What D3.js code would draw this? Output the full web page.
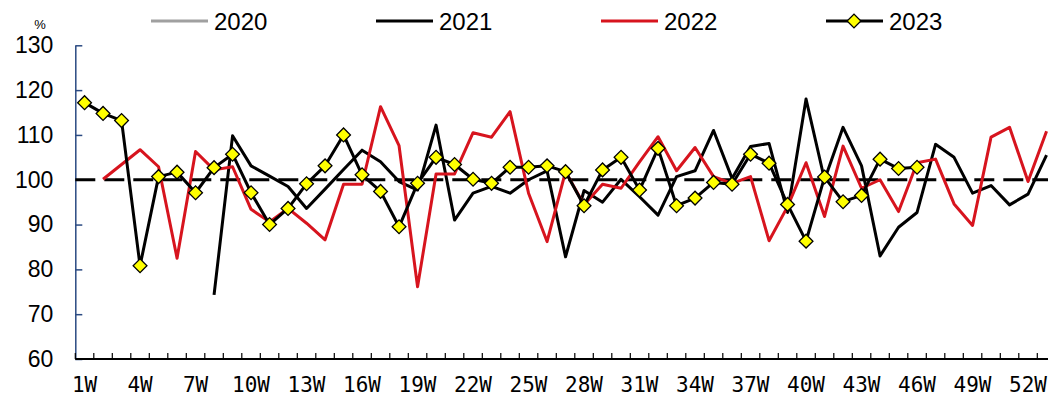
<!DOCTYPE html>
<html>
<head>
<meta charset="utf-8">
<script src="https://cdn.jsdelivr.net/npm/d3@7"></script>
<style>
  body { margin: 0; background: #fff; }
</style>
</head>
<body>
<svg id="chart" width="1048" height="398"></svg>
<script>
// weeks 1..53 (53rd week runs off the right edge)
const weeks = d3.range(1, 54);
const tickWeeks = d3.range(1, 53, 3); // 1W, 4W, ... 52W
const yTicks = [60, 70, 80, 90, 100, 110, 120, 130];
const years = ["2020", "2021", "2022", "2023"];

const v2020 = [];
const v2021 = [null, null, null, null, null, null, null,
  74.3, 109.8, 103.1, 100.8, 98.5, 93.6, 97.9, 102.3, 106.6, 104.0,
  99.6, 97.7, 112.2, 91.0, 97.0, 98.5, 97.0, 100.0, 102.0, 82.8,
  97.6, 95.0, 100.1, 96.2, 92.1, 100.7, 102.0, 111.0, 100.3, 107.4,
  108.1, 92.7, 118.0, 100.0, 111.7, 103.1, 83.0, 89.4, 92.7, 107.9,
  105.0, 97.0, 98.7, 94.4, 96.8, 105.5];
const v2022 = [null,
  100.1, 103.4, 106.7, 102.9, 82.5, 106.3, 102.2, 102.9, 93.4, 90.6,
  93.6, 90.3, 86.6, 99.0, 99.0, 116.3, 107.6, 76.1, 101.3, 101.3,
  110.5, 109.5, 115.2, 97.0, 86.2, 101.8, 94.4, 99.0, 98.1, 104.0,
  109.6, 102.0, 107.2, 100.7, 99.2, 100.7, 86.4, 94.0, 103.8, 91.8,
  107.5, 98.1, 100.0, 92.9, 103.8, 104.6, 94.6, 89.8, 109.5, 111.7,
  99.6, 110.8];
const v2023 = [117.2, 114.8, 113.2, 80.8, 100.7, 101.7, 97.1, 102.7, 105.7, 97.1,
  90.0, 93.6, 99.1, 103.1, 110.0, 101.1, 97.4, 89.5, 99.2, 105.0,
  103.4, 100.1, 99.2, 102.8, 102.8, 103.1, 101.8, 94.2, 102.2, 105.0,
  97.7, 107.0, 94.2, 95.9, 99.4, 99.0, 105.7, 103.7, 94.5, 86.3,
  100.6, 95.1, 96.5, 104.6, 102.5, 102.8];
const refLine = 100;

const colors = { "2020": "#a0a0a0", "2021": "#000", "2022": "#d7141e", "2023": "#000" };
const seriesData = { "2020": v2020, "2021": v2021, "2022": v2022, "2023": v2023 };

const svg = d3.select("#chart");
const plotLeft = 75.3, bw = 18.5, plotTop = 45.3, plotBottom = 359;

const x = d3.scaleBand()
    .domain(weeks)
    .range([plotLeft, plotLeft + weeks.length * bw])
    .padding(0);
const cx = w => x(w) + x.bandwidth() / 2;

const y = d3.scaleLinear().domain([60, 130]).range([plotBottom, plotTop]);

// y axis (navy, ticks pointing in)
const yAxis = svg.append("g")
    .attr("transform", `translate(${plotLeft},0)`)
    .call(d3.axisLeft(y).tickValues(yTicks).tickSizeInner(-7).tickSizeOuter(0).tickPadding(22));
yAxis.select(".domain").attr("stroke", "#2b4a82").attr("stroke-width", 1.5);
yAxis.selectAll(".tick line").attr("stroke", "#2b4a82").attr("stroke-width", 1.5);
yAxis.selectAll(".tick text")
    .attr("font-family", "'Liberation Sans', Arial, sans-serif")
    .attr("font-size", 23)
    .attr("fill", "#000");

svg.append("text")
    .attr("x", 40).attr("y", 29)
    .attr("text-anchor", "middle")
    .attr("font-family", "'Liberation Sans', Arial, sans-serif")
    .attr("font-size", 13)
    .text("%");

// x axis
svg.append("line")
    .attr("x1", plotLeft).attr("x2", 1048)
    .attr("y1", plotBottom).attr("y2", plotBottom)
    .attr("stroke", "#000").attr("stroke-width", 2);
svg.append("g").selectAll("line")
    .data(weeks.concat([weeks.length + 1]))
    .join("line")
      .attr("x1", d => plotLeft + (d - 1) * bw)
      .attr("x2", d => plotLeft + (d - 1) * bw)
      .attr("y1", plotBottom - 6).attr("y2", plotBottom)
      .attr("stroke", "#000").attr("stroke-width", 1.2);
svg.append("g").selectAll("text")
    .data(tickWeeks)
    .join("text")
      .attr("x", d => cx(d))
      .attr("y", 392)
      .attr("text-anchor", "middle")
      .attr("font-family", "'DejaVu Sans Mono', monospace")
      .attr("font-size", 21)
      .text(d => d + "W");

// 100% reference
svg.append("line")
    .attr("x1", plotLeft).attr("x2", 1048)
    .attr("y1", y(refLine)).attr("y2", y(refLine))
    .attr("stroke", "#000").attr("stroke-width", 3)
    .attr("stroke-dasharray", "20 9");

const line = d3.line()
    .defined(d => d.v != null)
    .x(d => cx(d.w))
    .y(d => y(d.v));

years.forEach(yr => {
  const pts = seriesData[yr].map((v, i) => ({ w: weeks[i], v: v }));
  svg.append("path")
      .datum(pts)
      .attr("fill", "none")
      .attr("stroke", colors[yr])
      .attr("stroke-width", 3)
      .attr("stroke-linejoin", "round")
      .attr("d", line);
});

const diamond = d3.symbol().type(d3.symbolSquare).size(95);
svg.append("g").selectAll("path")
    .data(v2023.map((v, i) => ({ w: weeks[i], v: v })))
    .join("path")
      .attr("transform", d => `translate(${cx(d.w)},${y(d.v)}) rotate(45)`)
      .attr("d", diamond)
      .attr("fill", "#ffff00")
      .attr("stroke", "#000")
      .attr("stroke-width", 1.3);

// legend
const legendX = { "2020": 151, "2021": 376, "2022": 601, "2023": 826 };
const lg = svg.append("g");
years.forEach(yr => {
  const lx = legendX[yr];
  lg.append("line")
      .attr("x1", lx).attr("x2", lx + 57)
      .attr("y1", 21).attr("y2", 21)
      .attr("stroke", colors[yr]).attr("stroke-width", 3);
  if (yr === "2023") {
    lg.append("path")
        .attr("transform", `translate(${lx + 28},21) rotate(45)`)
        .attr("d", diamond)
        .attr("fill", "#ffff00").attr("stroke", "#000").attr("stroke-width", 1.3);
  }
  lg.append("text")
      .attr("x", lx + 63).attr("y", 30)
      .attr("font-family", "'Liberation Sans', Arial, sans-serif")
      .attr("font-size", 24)
      .text(yr);
});
</script>
</body>
</html>
